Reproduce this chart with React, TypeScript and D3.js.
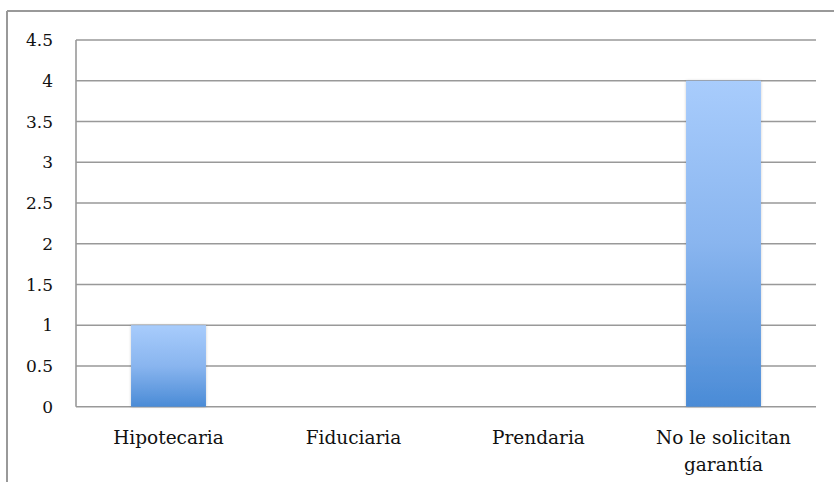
import React from "react";
import * as d3 from "d3";

const categories: string[][] = [["Hipotecaria"], ["Fiduciaria"], ["Prendaria"], ["No le solicitan", "garantía"]];
const values: number[] = [1, 0, 0, 4];
const yTicks: number[] = [0, 0.5, 1, 1.5, 2, 2.5, 3, 3.5, 4, 4.5];

const W = 834;
const H = 482;
const left = 76;
const right = 816;
const top = 40;
const bottom = 406.7;

export default function App() {
  const x = d3.scaleBand<number>().domain(d3.range(categories.length)).range([left, right]).paddingInner(0).paddingOuter(0);
  const y = d3.scaleLinear().domain([0, 4.5]).range([bottom, top]);
  const bw = x.bandwidth() * 0.405;
  const font = "'DejaVu Serif', serif";
  return (
    <svg width={W} height={H} style={{ position: "absolute", left: 0, top: 0, background: "#fff" }}>
      <defs>
        <linearGradient id="barGrad" x1="0" y1="0" x2="0" y2="1">
          <stop offset="0" stopColor="#a8ccfc" />
          <stop offset="0.5" stopColor="#89b5ef" />
          <stop offset="1" stopColor="#4a8bd6" />
        </linearGradient>
        <filter id="sh" x="-20%" y="-5%" width="140%" height="110%">
          <feGaussianBlur in="SourceAlpha" stdDeviation="1.5" />
          <feComponentTransfer><feFuncA type="linear" slope="0.2" /></feComponentTransfer>
          <feMerge><feMergeNode /><feMergeNode in="SourceGraphic" /></feMerge>
        </filter>
      </defs>
      <line x1={7} y1={11} x2={W} y2={11} stroke="#999" strokeWidth={2} />
      <line x1={7} y1={11} x2={7} y2={H} stroke="#999" strokeWidth={2} />
      {yTicks.map((t) => (
        <g key={t}>
          <line x1={left} x2={right} y1={y(t)} y2={y(t)} stroke="#999" strokeWidth={1.6} />
          <text x={53} y={y(t)} dy="0.36em" textAnchor="end" fontFamily={font} fontSize={17} fill="#111">{t}</text>
        </g>
      ))}
      <line x1={left} x2={left} y1={top} y2={bottom} stroke="#999" strokeWidth={1.6} />
      {values.map((v, i) =>
        v > 0 ? (
          <rect key={i} x={x(i)! + x.bandwidth() / 2 - bw / 2} y={y(v)} width={bw} height={y(0) - y(v)} fill="url(#barGrad)" filter="url(#sh)" />
        ) : null
      )}
      {categories.map((lines, i) => (
        <text key={i} x={x(i)! + x.bandwidth() / 2} y={444} textAnchor="middle" fontFamily={font} fontSize={18.5} fill="#111">
          {lines.map((l, j) => (
            <tspan key={j} x={x(i)! + x.bandwidth() / 2} dy={j === 0 ? 0 : 27}>{l}</tspan>
          ))}
        </text>
      ))}
    </svg>
  );
}
